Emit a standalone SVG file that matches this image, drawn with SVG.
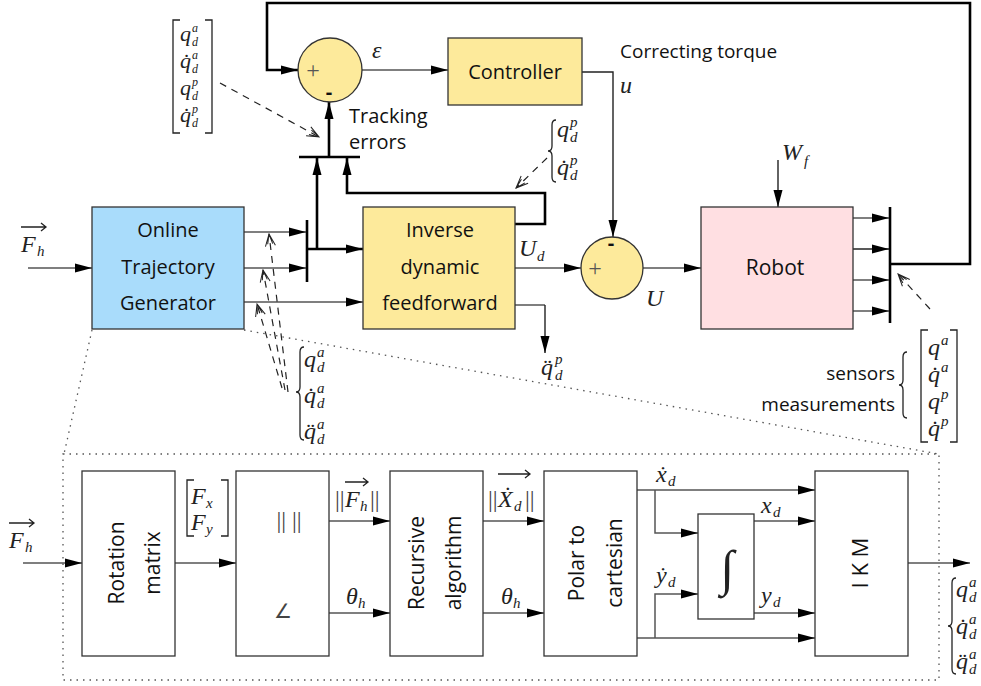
<svg xmlns="http://www.w3.org/2000/svg" width="981" height="686" viewBox="0 0 981 686">
<style>
.bx{stroke:#333;stroke-width:1.3}
.yl{fill:#fdea9b}
.wh{fill:#fff}
.ln{fill:none;stroke:#555;stroke-width:1.5}
.lk{fill:none;stroke:#222;stroke-width:1.4}
.tk{fill:none;stroke:#000;stroke-width:2.6}
.ds{fill:none;stroke:#222;stroke-width:1.2;stroke-dasharray:7,6}
.dt{fill:none;stroke:#555;stroke-width:1.3;stroke-dasharray:1.5,5}
.br{fill:none;stroke:#222;stroke-width:1.3}
.t{font-family:"Open Sans","DejaVu Sans",sans-serif;font-size:20px;fill:#111}
.tc{text-anchor:middle}
.m{font-family:"Liberation Serif",serif;font-style:italic;font-size:24px;fill:#222}
.mm{font-family:"Liberation Serif",serif;font-style:italic;font-size:22px;fill:#222}
.s{font-family:"Liberation Serif",serif;font-style:italic;font-size:15px;fill:#222}
.ss{font-family:"Liberation Serif",serif;font-style:italic;font-size:12px;fill:#222}
.r{font-family:"Liberation Serif",serif;font-size:22px;fill:#222}
</style>
<defs>
<marker id="a" markerWidth="17" markerHeight="10" refX="17" refY="5" orient="auto" markerUnits="userSpaceOnUse"><path d="M0,0.5 L17,5 L0,9.5 z" fill="#000"/></marker>
<marker id="o" markerWidth="14" markerHeight="12" refX="13" refY="6" orient="auto" markerUnits="userSpaceOnUse"><path d="M1,1 L13,6 L1,11 M3,3.5 L13,6 L3,8.5" fill="none" stroke="#222" stroke-width="1"/></marker>
</defs>

<g id="connectors">
  <path class="tk" d="M889,264 H970 V3 H267 V70 H298" marker-end="url(#a)"/>
  <path class="ln" d="M362,70 H448" marker-end="url(#a)"/>
  <path class="lk" d="M582,72 H613 V237" marker-end="url(#a)"/>
  <path class="ln" d="M515,268 H581" marker-end="url(#a)"/>
  <path class="ln" d="M643,268 H701" marker-end="url(#a)"/>
  <path class="lk" d="M778,160 V207" marker-end="url(#a)"/>
  <path class="ln" d="M853,218 H889" marker-end="url(#a)"/>
  <path class="lk" d="M853,249 H889" marker-end="url(#a)"/>
  <path class="ln" d="M853,280 H889" marker-end="url(#a)"/>
  <path class="ln" d="M853,311 H889" marker-end="url(#a)"/>
  <path class="tk" d="M890,207 V323"/>
  <path class="tk" d="M299,157 H360"/>
  <path class="tk" d="M329,157 V102" marker-end="url(#a)"/>
  <path class="tk" d="M317,249 V158" marker-end="url(#a)"/>
  <path class="tk" d="M515,224 H545 V193 H347 V158" marker-end="url(#a)"/>
  <path class="ln" d="M244,232 H306" marker-end="url(#a)"/>
  <path class="ln" d="M244,268 H306" marker-end="url(#a)"/>
  <path class="ln" d="M244,302 H363" marker-end="url(#a)"/>
  <path class="tk" d="M307,220 V282"/>
  <path class="tk" d="M307,249 H363" marker-end="url(#a)"/>
  <path class="ln" d="M28,268 H92" marker-end="url(#a)"/>
  <path class="ln" d="M515,305 H545"/>
  <path class="lk" d="M545,305 V353" marker-end="url(#a)"/>
  <path class="ds" d="M220,83 L319,137" marker-end="url(#o)"/>
  <path class="ds" d="M547,158 L516,188" marker-end="url(#o)"/>
  <path class="ds" d="M930,309 L898,274" marker-end="url(#o)"/>
  <path class="ds" d="M288,392 L269,234" marker-end="url(#o)"/>
  <path class="ds" d="M285,390 L263,270" marker-end="url(#o)"/>
  <path class="ds" d="M282,388 L257,304" marker-end="url(#o)"/>
  <path class="dt" d="M92,330 L64,454"/>
  <path class="dt" d="M244,330 L939,454"/>
  <rect class="dt" x="63" y="454" width="876" height="226"/>
  <path class="ln" d="M23,563 H82" marker-end="url(#a)"/>
  <path class="ln" d="M175,563 H236" marker-end="url(#a)"/>
  <path class="ln" d="M329,521 H390" marker-end="url(#a)"/>
  <path class="ln" d="M329,613 H390" marker-end="url(#a)"/>
  <path class="ln" d="M483,521 H544" marker-end="url(#a)"/>
  <path class="ln" d="M483,613 H544" marker-end="url(#a)"/>
  <path class="ln" d="M637,490 H815" marker-end="url(#a)"/>
  <path class="ln" d="M655,490 V533 H698" marker-end="url(#a)"/>
  <path class="ln" d="M637,638 H815" marker-end="url(#a)"/>
  <path class="ln" d="M655,638 V594 H698" marker-end="url(#a)"/>
  <path class="ln" d="M754,521 H815" marker-end="url(#a)"/>
  <path class="ln" d="M754,613 H815" marker-end="url(#a)"/>
  <path class="ln" d="M908,563 H970" marker-end="url(#a)"/>
</g>

<g id="sum1">
  <circle class="bx yl" cx="330" cy="70" r="32"/>
  <text class="r" x="313" y="78" text-anchor="middle" style="fill:#555;font-size:24px">+</text>
  <text class="t tc" x="329" y="99" style="font-weight:bold">-</text>
</g>
<g id="controller">
  <rect class="bx yl" x="448" y="38" width="134" height="67"/>
  <text class="t tc" x="515" y="79">Controller</text>
</g>
<g id="sum2">
  <circle class="bx yl" cx="612" cy="268" r="31"/>
  <text class="r" x="595" y="276" text-anchor="middle" style="fill:#555;font-size:24px">+</text>
  <text class="t tc" x="611" y="250" style="font-weight:bold">-</text>
</g>
<g id="robot">
  <rect class="bx" x="701" y="207" width="152" height="122" fill="#ffdfe2"/>
  <text class="t tc" x="775" y="275" style="font-size:21px">Robot</text>
</g>
<g id="otg">
  <rect class="bx" x="92" y="207" width="152" height="122" fill="#a9dcfb"/>
  <text class="t tc" x="168" y="237">Online</text>
  <text class="t tc" x="168" y="274">Trajectory</text>
  <text class="t tc" x="168" y="310">Generator</text>
</g>
<g id="idf">
  <rect class="bx yl" x="363" y="207" width="152" height="122"/>
  <text class="t tc" x="440" y="237">Inverse</text>
  <text class="t tc" x="440" y="274">dynamic</text>
  <text class="t tc" x="440" y="310">feedforward</text>
</g>

<g id="labels-top">
  <text class="m" x="372" y="58">ε</text>
  <text class="t" x="620" y="58" style="font-size:19px">Correcting torque</text>
  <text class="m" x="620" y="93">u</text>
  <text class="m" x="519" y="256">U</text><text class="s" x="537" y="261">d</text>
  <text class="m" x="646" y="306">U</text>
  <text class="m" x="782" y="160">W</text><text class="s" x="804" y="166">f</text>
  <text class="t" x="349" y="123">Tracking</text>
  <text class="t" x="349" y="149">errors</text>
  <text class="m" x="21" y="252">F</text><text class="s" x="37" y="256">h</text>
  <path class="br" d="M21,227 H46 M41,223 L46,227 L41,231"/>
  <text class="m" x="541" y="375">q&#x308;</text><text class="s"><tspan x="555" y="364">p</tspan><tspan x="555" y="380">d</tspan></text>
</g>

<g id="matrix-topleft">
  <path class="br" d="M180,20 H173 V133 H180 M205,20 H212 V133 H205"/>
  <text class="mm" x="180" y="41">q</text><text class="ss" x="192" y="32">a</text><text class="ss" x="192" y="45.5">d</text>
  <text class="mm" x="180" y="68">q&#x307;</text><text class="ss" x="192" y="59">a</text><text class="ss" x="192" y="72.5">d</text>
  <text class="mm" x="180" y="95">q</text><text class="ss" x="192" y="86">p</text><text class="ss" x="192" y="99.5">d</text>
  <text class="mm" x="180" y="122">q&#x307;</text><text class="ss" x="192" y="113">p</text><text class="ss" x="192" y="126.5">d</text>
</g>

<g id="brace-topright">
  <path class="br" d="M556,120 Q552,120 552,125 L552,146 Q552,151 548,151 Q552,151 552,156 L552,177 Q552,182 556,182"/>
  <text class="m" x="557" y="137">q</text><text class="s"><tspan x="570" y="127">p</tspan><tspan x="570" y="142">d</tspan></text>
  <text class="m" x="557" y="175">q&#x307;</text><text class="s"><tspan x="570" y="165">p</tspan><tspan x="570" y="180">d</tspan></text>
</g>

<g id="brace-otg">
  <path class="br" d="M304,347 Q300,347 300,352 L300,387 Q300,392 296,392 Q300,392 300,397 L300,435 Q300,440 304,440"/>
  <text class="m" x="304" y="367">q</text><text class="s"><tspan x="317" y="357">a</tspan><tspan x="317" y="372">d</tspan></text>
  <text class="m" x="304" y="403">q&#x307;</text><text class="s"><tspan x="317" y="393">a</tspan><tspan x="317" y="408">d</tspan></text>
  <text class="m" x="304" y="439">q&#x308;</text><text class="s"><tspan x="317" y="429">a</tspan><tspan x="317" y="444">d</tspan></text>
</g>

<g id="sensors">
  <text class="t" x="895" y="380" text-anchor="end" style="font-size:19px">sensors</text>
  <text class="t" x="895" y="411" text-anchor="end" style="font-size:19px">measurements</text>
  <path class="br" d="M907,352 Q903,352 903,357 L903,380 Q903,385 899,385 Q903,385 903,390 L903,413 Q903,418 907,418"/>
  <path class="br" d="M928,330 H921 V442 H928 M950,330 H957 V442 H950"/>
  <text class="m" x="928" y="355">q</text><text class="s" x="941" y="345">a</text>
  <text class="m" x="928" y="382">q&#x307;</text><text class="s" x="941" y="372">a</text>
  <text class="m" x="928" y="409">q</text><text class="s" x="941" y="399">p</text>
  <text class="m" x="928" y="436">q&#x307;</text><text class="s" x="941" y="426">p</text>
</g>

<g id="rotation">
  <rect class="bx wh" x="82" y="471" width="93" height="185"/>
  <text class="t tc" transform="translate(124,563) rotate(-90)" style="font-size:21px">Rotation</text>
  <text class="t tc" transform="translate(160,563) rotate(-90)" style="font-size:21px">matrix</text>
</g>
<g id="norm">
  <rect class="bx wh" x="236" y="471" width="93" height="185"/>
  <text class="r" x="289" y="528" text-anchor="middle" style="font-size:24px;fill:#444">|| ||</text>
  <text class="r" x="283" y="618" text-anchor="middle" style="font-size:20px;fill:#444;font-family:'DejaVu Sans',sans-serif;font-weight:200">∠</text>
</g>
<g id="recursive">
  <rect class="bx wh" x="390" y="471" width="93" height="185"/>
  <text class="t tc" transform="translate(424,563) rotate(-90)" style="font-size:21px">Recursive</text>
  <text class="t tc" transform="translate(461,563) rotate(-90)" style="font-size:21px">algorithm</text>
</g>
<g id="polar">
  <rect class="bx wh" x="544" y="471" width="93" height="185"/>
  <text class="t tc" transform="translate(584,563) rotate(-90)" style="font-size:21px">Polar to</text>
  <text class="t tc" transform="translate(622,563) rotate(-90)" style="font-size:21px">cartesian</text>
</g>
<g id="integrator">
  <rect class="bx wh" x="698" y="514" width="56" height="105"/>
  <text class="r" x="727" y="585" text-anchor="middle" style="font-size:50px">∫</text>
</g>
<g id="ikm">
  <rect class="bx wh" x="815" y="471" width="93" height="185"/>
  <text class="t tc" transform="translate(868,563) rotate(-90)" style="font-size:22px">I K M</text>
</g>

<g id="labels-bottom">
  <text class="m" x="9" y="548">F</text><text class="s" x="25" y="552">h</text>
  <path class="br" d="M9,523 H34 M29,519 L34,523 L29,527"/>
  <path class="br" d="M194,480 H187 V536 H194 M221,480 H228 V536 H221"/>
  <text class="m" x="191" y="504">F</text><text class="s" x="206" y="508">x</text>
  <text class="m" x="191" y="530">F</text><text class="s" x="206" y="534">y</text>
  <text class="r" x="335" y="507" style="font-size:24px;fill:#444">||</text><text class="m" x="345" y="507">F</text><text class="s" x="360" y="511">h</text><text class="r" x="370" y="507" style="font-size:24px;fill:#444">||</text>
  <path class="br" d="M345,482 H368 M363,478 L368,482 L363,486"/>
  <text class="m" x="346" y="604">θ</text><text class="s" x="358" y="608">h</text>
  <text class="r" x="488" y="507" style="font-size:24px;fill:#444">||</text><text class="m" x="498" y="507">&#x1E8A;</text><text class="s" x="514" y="511">d</text><text class="r" x="525" y="507" style="font-size:24px;fill:#444">||</text>
  <path class="br" d="M498,474 H530 M525,470 L530,474 L525,478"/>
  <text class="m" x="501" y="604">θ</text><text class="s" x="513" y="608">h</text>
  <text class="m" x="656" y="482">&#x1E8B;</text><text class="s" x="668" y="486">d</text>
  <text class="m" x="761" y="513">x</text><text class="s" x="773" y="517">d</text>
  <text class="m" x="656" y="583">&#x1E8F;</text><text class="s" x="668" y="587">d</text>
  <text class="m" x="761" y="603">y</text><text class="s" x="773" y="607">d</text>
  <path class="br" d="M956,578 Q952,578 952,583 L952,621 Q952,626 948,626 Q952,626 952,631 L952,669 Q952,674 956,674"/>
  <text class="m" x="956" y="597">q</text><text class="s"><tspan x="969" y="587">a</tspan><tspan x="969" y="602">d</tspan></text>
  <text class="m" x="956" y="634">q&#x307;</text><text class="s"><tspan x="969" y="624">a</tspan><tspan x="969" y="639">d</tspan></text>
  <text class="m" x="956" y="669">q&#x308;</text><text class="s"><tspan x="969" y="659">a</tspan><tspan x="969" y="674">d</tspan></text>
</g>
</svg>
